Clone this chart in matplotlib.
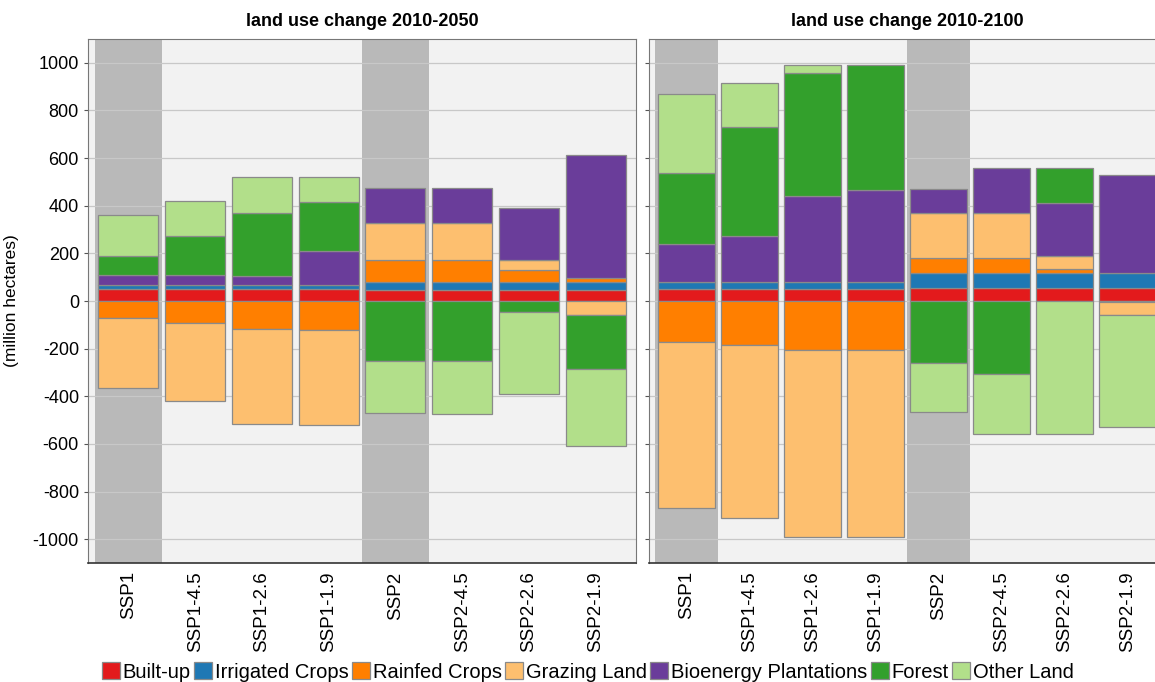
import numpy as np
import matplotlib
matplotlib.use('Agg')
from matplotlib import pyplot as plt
from matplotlib.patches import Patch

plt.rcParams['font.family'] = ['Liberation Sans', 'DejaVu Sans']
plt.rcParams['axes.unicode_minus'] = False

scenarios = ['SSP1', 'SSP1-4.5', 'SSP1-2.6', 'SSP1-1.9', 'SSP2', 'SSP2-4.5', 'SSP2-2.6', 'SSP2-1.9']
land_types = ['Built-up', 'Irrigated Crops', 'Rainfed Crops', 'Grazing Land',
              'Bioenergy Plantations', 'Forest', 'Other Land']
colors = ['#e31a1c', '#1f78b4', '#ff7f00', '#fdbf6f', '#6a3d9a', '#33a02c', '#b2df8a']

# change in million hectares, 2010-2050
built_2050 = [50, 50, 50, 50, 46, 46, 46, 46]
irrigated_2050 = [18, 18, 18, 18, 33, 33, 33, 35]
rainfed_2050 = [-73, -91, -119, -122, 93, 93, 51, 17]
grazing_2050 = [-291, -329, -399, -399, 156, 156, 42, -57]
bioenergy_2050 = [42, 42, 36, 144, 145, 145, 217, 515]
forest_2050 = [78, 165, 265, 203, -251, -251, -45, -230]
other_2050 = [175, 143, 150, 104, -220, -222, -344, -323]

# change in million hectares, 2010-2100
built_2100 = [50, 50, 50, 50, 53, 53, 53, 53]
irrigated_2100 = [29, 29, 29, 29, 63, 63, 63, 63]
rainfed_2100 = [-171, -185, -205, -205, 63, 63, 20, -5]
grazing_2100 = [-697, -728, -784, -784, 191, 191, 53, -54]
bioenergy_2100 = [160, 195, 362, 387, 99, 190, 224, 415]
forest_2100 = [297, 456, 517, 524, -259, -307, 147, 0]
other_2100 = [334, 184, 32, 0, -207, -252, -559, -469]

data_2050 = [built_2050, irrigated_2050, rainfed_2050, grazing_2050,
             bioenergy_2050, forest_2050, other_2050]
data_2100 = [built_2100, irrigated_2100, rainfed_2100, grazing_2100,
             bioenergy_2100, forest_2100, other_2100]

# baseline scenarios get a shaded background column
baselines = ['SSP1', 'SSP2']


def stacked_panel(ax, data, title, xpad):
    x = np.arange(len(scenarios))
    ax.set_facecolor('#f2f2f2')
    for s in baselines:
        i = scenarios.index(s)
        ax.axvspan(i - 0.5, i + 0.5, color='#b9b9b9', zorder=0.2, lw=0)
    pos = np.zeros(len(scenarios))
    neg = np.zeros(len(scenarios))
    for vals, c in zip(data, colors):
        vals = np.array(vals, dtype=float)
        for j, v in enumerate(vals):
            if v == 0:
                continue
            if v > 0:
                ax.bar(x[j], v, 0.9, bottom=pos[j], color=c, edgecolor='#8a8a8a', lw=0.9, zorder=2)
                pos[j] += v
            else:
                ax.bar(x[j], v, 0.9, bottom=neg[j], color=c, edgecolor='#8a8a8a', lw=0.9, zorder=2)
                neg[j] += v
    ax.set_xlim(-0.5 - xpad, len(scenarios) - 0.5 + xpad)
    ax.set_ylim(-1100, 1100)
    ax.set_yticks(np.arange(-1000, 1001, 200))
    ax.set_axisbelow(True)
    ax.yaxis.grid(True, color='#c8c8c8', lw=0.9)
    ax.set_xticks(x)
    ax.set_xticklabels(scenarios, rotation=90, fontsize=13.5)
    ax.tick_params(axis='x', length=0, pad=6)
    ax.tick_params(axis='y', length=3, color='#555555', labelsize=13)
    for side in ['top', 'right', 'left']:
        ax.spines[side].set_color('#777777')
    ax.spines['bottom'].set_color('#333333')
    ax.spines['bottom'].set_linewidth(1.2)
    ax.set_title(title, fontsize=13, fontweight='bold', pad=9)


fig = plt.figure(figsize=(11.55, 6.82), dpi=100)
ax1 = fig.add_axes([88 / 1155, 1 - 563 / 682, 548 / 1155, 524 / 682])
ax2 = fig.add_axes([648.5 / 1155, 1 - 563 / 682, 517 / 1155, 524 / 682])

stacked_panel(ax1, data_2050, 'land use change 2010-2050', 0.105)
stacked_panel(ax2, data_2100, 'land use change 2010-2100', 0.1)
ax2.tick_params(axis='y', labelleft=False)
ax1.set_ylabel('(million hectares)', fontsize=12.5, labelpad=10)

handles = [Patch(facecolor=c, edgecolor='#8a8a8a', lw=0.9) for c in colors]
fig.legend(handles, land_types, loc='lower center', bbox_to_anchor=(0.509, -0.026),
           ncol=7, frameon=False, handlelength=0.9, handleheight=0.9,
           handletextpad=0.15, columnspacing=0.15,
           prop={'family': ['Liberation Sans Narrow', 'Liberation Sans'], 'size': 14.5})

fig.savefig('out.png', dpi=100)
